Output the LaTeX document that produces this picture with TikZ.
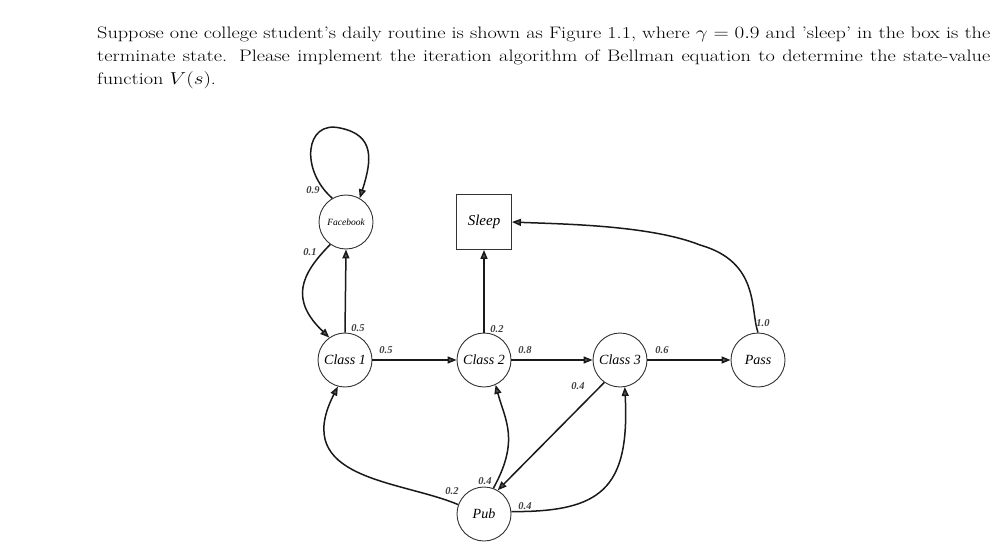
\documentclass[tikz,border=0pt]{standalone}
\usepackage{fontspec}
\newfontfamily\tms{Liberation Serif}
\usetikzlibrary{arrows.meta}
\begin{document}
\begin{tikzpicture}[x=1pt,y=-1pt,
  st/.style={circle,draw=black!80,line width=0.9pt,minimum size=54pt,inner sep=0pt,font=\tms\itshape\fontsize{14}{14}\selectfont},
  edge/.style={draw=black!90,line width=1.5pt,-{Triangle[length=9pt,width=7pt,fill=black!65]}},
  lb/.style={font=\tms\itshape\bfseries\fontsize{10.5}{10.5}\selectfont,inner sep=0pt,text=black!75}]
\useasboundingbox (0,0) rectangle (995,548);
\node[anchor=north west,inner sep=0pt] (txt) at (97,27) {\scalebox{1.22}[1]{\parbox{732pt}{\fontsize{16.6}{23}\selectfont
Suppose one college student's daily routine is shown as Figure 1.1, where $\gamma=0.9$ and 'sleep' in the box is the\linebreak terminate state. Please implement the iteration algorithm of Bellman equation to determine the state-value\linebreak function $V(s)$.}}};
\node[st,font=\tms\itshape\fontsize{9.5}{9.5}\selectfont] (fb) at (346,222) {Facebook};
\node[draw=black!80,line width=0.9pt,minimum size=55pt,inner sep=0pt,font=\tms\itshape\fontsize{15}{15}\selectfont] (sl) at (484,222) {Sleep};
\node[st] (c1) at (345,360) {Class 1};
\node[st] (c2) at (484,360) {Class 2};
\node[st] (c3) at (620,360) {Class 3};
\node[st] (ps) at (758,360) {Pass};
\node[st] (pb) at (484,514) {Pub};
\draw[edge] (fb.120) .. controls (300,170) and (305,120) .. (340,128) .. controls (375,135) and (372,160) .. (fb.60);
\draw[edge] (fb.235) .. controls (300,275) and (290,300) .. (c1.125);
\draw[edge] (c1.north) -- (fb.south);
\draw[edge] (c1.east) -- (c2.west);
\draw[edge] (c2.north) -- (sl.south);
\draw[edge] (c2.east) -- (c3.west);
\draw[edge] (c3.east) -- (ps.west);
\draw[edge] (ps.north) .. controls (750,310) and (760,262) .. (700,245) .. controls (650,225) and (560,224) .. (sl.east);
\draw[edge] (c3.235) -- (pb.60);
\draw[edge] (pb.70) .. controls (520,440) and (505,420) .. (c2.295);
\draw[edge] (pb.5) .. controls (600,512) and (630,490) .. (c3.280);
\draw[edge] (pb.160) .. controls (400,480) and (290,480) .. (c1.255);
\node[lb] (a) at (313,190) {0.9};
\node[lb] (b) at (310,252) {0.1};
\node[lb] (c) at (358,328) {0.5};
\node[lb] (d) at (386,350) {0.5};
\node[lb] (e) at (497,329) {0.2};
\node[lb] (f) at (525,350) {0.8};
\node[lb] (g) at (662,350) {0.6};
\node[lb] (h) at (763,323) {1.0};
\node[lb] (i) at (578,386) {0.4};
\node[lb] (j) at (485,481) {0.4};
\node[lb] (k) at (452,491) {0.2};
\node[lb] (m) at (525,506) {0.4};
\end{tikzpicture}
\end{document}
